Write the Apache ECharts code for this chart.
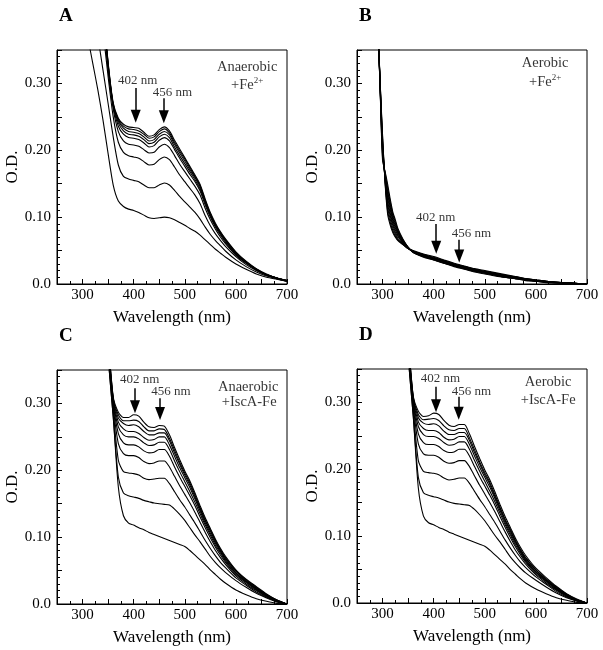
<!DOCTYPE html>
<html>
<head>
<meta charset="utf-8">
<script src="https://cdn.jsdelivr.net/npm/echarts@6.0.0/dist/echarts.min.js"></script>
<style>
  html, body { margin: 0; padding: 0; background: #fff; }
  #main { width: 603px; height: 650px; }
</style>
</head>
<body>
<div id="main"></div>
<script>
// 波长 (nm) - 面板 A / C / D
const wl = [300,310,320,330,340,350,360,370,380,390,400,410,420,430,440,450,460,470,480,490,500,510,520,530,540,550,560,570,580,600,620,640,660,680,700]
// 波长 (nm) - 面板 B
const wlB = [288,292,296,300,305,310,315,320,325,330,340,350,360,380,400,420,440,460,480,500,520,540,560,580,600,620,650,700]

// A: Anaerobic +Fe2+
const a1 = [0.41,0.37,0.33,0.29,0.245,0.195,0.148,0.124,0.116,0.112,0.110,0.107,0.103,0.099,0.098,0.099,0.100,0.099,0.096,0.092,0.088,0.083,0.079,0.073,0.066,0.059,0.052,0.046,0.040,0.030,0.022,0.015,0.010,0.007,0.004]
const a2 = [0.55,0.48,0.42,0.37,0.32,0.27,0.22,0.178,0.161,0.157,0.155,0.153,0.148,0.144,0.144,0.148,0.151,0.148,0.140,0.131,0.123,0.115,0.107,0.097,0.085,0.074,0.065,0.057,0.049,0.036,0.026,0.018,0.012,0.008,0.004]
const a3 = [0.75,0.63,0.53,0.45,0.38,0.31,0.25,0.212,0.197,0.192,0.190,0.188,0.183,0.178,0.179,0.186,0.190,0.186,0.175,0.163,0.153,0.143,0.133,0.120,0.102,0.087,0.075,0.065,0.056,0.041,0.029,0.020,0.013,0.008,0.004]
const a4 = [0.85,0.70,0.58,0.49,0.40,0.32,0.262,0.228,0.214,0.209,0.208,0.206,0.201,0.196,0.197,0.205,0.209,0.204,0.192,0.179,0.168,0.157,0.146,0.133,0.113,0.096,0.082,0.070,0.060,0.043,0.031,0.021,0.014,0.009,0.004]
const a5 = [0.88,0.72,0.60,0.50,0.41,0.325,0.266,0.236,0.224,0.219,0.218,0.216,0.211,0.205,0.207,0.215,0.219,0.214,0.201,0.188,0.176,0.164,0.153,0.139,0.118,0.100,0.085,0.073,0.062,0.044,0.032,0.021,0.014,0.009,0.005]
const a6 = [0.89,0.73,0.61,0.51,0.415,0.327,0.267,0.241,0.229,0.224,0.223,0.221,0.216,0.210,0.212,0.220,0.224,0.219,0.205,0.192,0.180,0.168,0.156,0.142,0.121,0.102,0.087,0.075,0.064,0.045,0.032,0.022,0.014,0.009,0.005]
const a7 = [0.90,0.74,0.615,0.515,0.418,0.329,0.268,0.244,0.233,0.228,0.227,0.225,0.220,0.214,0.216,0.224,0.228,0.223,0.209,0.196,0.184,0.171,0.159,0.145,0.123,0.104,0.088,0.076,0.065,0.046,0.033,0.022,0.014,0.009,0.005]
const a8 = [0.90,0.745,0.618,0.518,0.419,0.330,0.269,0.246,0.236,0.232,0.231,0.229,0.224,0.218,0.220,0.228,0.232,0.226,0.212,0.199,0.187,0.174,0.161,0.147,0.125,0.105,0.089,0.077,0.066,0.047,0.033,0.022,0.014,0.009,0.005]
const a9 = [0.90,0.75,0.62,0.52,0.42,0.332,0.271,0.248,0.239,0.235,0.234,0.233,0.227,0.221,0.223,0.231,0.235,0.229,0.215,0.202,0.189,0.176,0.163,0.149,0.127,0.107,0.091,0.078,0.067,0.048,0.034,0.023,0.015,0.009,0.005]

// B: Aerobic +Fe2+
const b1 = [0.52,0.37,0.29,0.223,0.150,0.104,0.088,0.077,0.070,0.065,0.059,0.053,0.050,0.045,0.041,0.036,0.031,0.027,0.023,0.020,0.017,0.014,0.011,0.008,0.006,0.004,0.002,0.0]
const b2 = [0.52,0.37,0.288,0.219,0.152,0.109,0.092,0.080,0.072,0.066,0.059,0.053,0.049,0.044,0.040,0.035,0.030,0.026,0.022,0.019,0.016,0.013,0.011,0.008,0.006,0.004,0.002,0.0]
const b3 = [0.52,0.37,0.286,0.215,0.154,0.114,0.097,0.084,0.075,0.068,0.060,0.053,0.049,0.044,0.039,0.034,0.030,0.026,0.022,0.019,0.016,0.013,0.010,0.008,0.006,0.004,0.002,0.0]
const b4 = [0.52,0.37,0.284,0.211,0.156,0.119,0.102,0.088,0.078,0.071,0.061,0.053,0.049,0.043,0.039,0.034,0.029,0.025,0.021,0.018,0.015,0.012,0.010,0.007,0.005,0.004,0.002,0.0]
const b5 = [0.52,0.37,0.282,0.207,0.158,0.124,0.106,0.091,0.081,0.073,0.062,0.054,0.049,0.043,0.038,0.033,0.029,0.025,0.021,0.018,0.015,0.012,0.009,0.007,0.005,0.003,0.002,0.0]
const b6 = [0.52,0.37,0.28,0.203,0.160,0.129,0.111,0.095,0.084,0.075,0.063,0.054,0.048,0.042,0.038,0.033,0.028,0.024,0.020,0.017,0.014,0.011,0.009,0.007,0.005,0.003,0.002,0.0]
const b7 = [0.52,0.37,0.278,0.199,0.162,0.134,0.115,0.098,0.087,0.077,0.064,0.054,0.048,0.042,0.037,0.032,0.028,0.024,0.020,0.017,0.014,0.011,0.009,0.006,0.005,0.003,0.002,0.0]
const b8 = [0.52,0.37,0.276,0.195,0.164,0.139,0.119,0.102,0.090,0.079,0.065,0.055,0.048,0.041,0.037,0.032,0.027,0.023,0.019,0.016,0.013,0.010,0.008,0.006,0.004,0.003,0.001,0.0]
const b9 = [0.52,0.37,0.274,0.190,0.166,0.144,0.123,0.105,0.093,0.081,0.066,0.055,0.047,0.041,0.036,0.031,0.027,0.023,0.019,0.016,0.013,0.010,0.008,0.006,0.004,0.003,0.001,0.0]
const b10 = [0.52,0.37,0.272,0.185,0.168,0.149,0.127,0.108,0.096,0.083,0.067,0.055,0.047,0.040,0.036,0.031,0.026,0.022,0.018,0.015,0.012,0.010,0.008,0.005,0.004,0.002,0.001,0.0]

// C: Anaerobic +IscA-Fe
const c1 = [1.0,0.85,0.72,0.60,0.48,0.37,0.28,0.175,0.132,0.121,0.118,0.114,0.111,0.107,0.104,0.101,0.098,0.095,0.092,0.089,0.086,0.080,0.073,0.066,0.059,0.051,0.044,0.037,0.031,0.021,0.014,0.008,0.004,0.001,0.0]
const c2 = [1.05,0.88,0.74,0.61,0.49,0.37,0.28,0.19,0.166,0.162,0.160,0.158,0.155,0.153,0.151,0.150,0.149,0.148,0.142,0.134,0.125,0.114,0.103,0.093,0.082,0.071,0.062,0.054,0.047,0.035,0.025,0.016,0.009,0.003,0.0]
const c3 = [1.1,0.9,0.75,0.62,0.50,0.38,0.29,0.215,0.198,0.196,0.195,0.193,0.188,0.186,0.187,0.188,0.188,0.180,0.168,0.156,0.145,0.133,0.121,0.108,0.095,0.083,0.072,0.062,0.054,0.039,0.028,0.018,0.010,0.004,0.0]
const c4 = [1.12,0.91,0.76,0.62,0.50,0.38,0.295,0.24,0.225,0.222,0.222,0.219,0.213,0.210,0.211,0.214,0.214,0.205,0.191,0.177,0.164,0.151,0.137,0.122,0.107,0.093,0.080,0.069,0.059,0.042,0.030,0.020,0.011,0.004,0.0]
const c5 = [1.14,0.92,0.76,0.63,0.51,0.385,0.30,0.255,0.241,0.238,0.238,0.235,0.229,0.226,0.227,0.231,0.231,0.221,0.205,0.190,0.176,0.162,0.147,0.130,0.114,0.099,0.085,0.073,0.062,0.044,0.032,0.021,0.012,0.005,0.0]
const c6 = [1.16,0.93,0.77,0.63,0.51,0.39,0.303,0.265,0.253,0.250,0.250,0.247,0.241,0.237,0.238,0.242,0.242,0.231,0.214,0.198,0.183,0.168,0.152,0.135,0.118,0.103,0.088,0.076,0.064,0.046,0.033,0.022,0.013,0.005,0.0]
const c7 = [1.17,0.94,0.77,0.64,0.52,0.39,0.305,0.272,0.262,0.258,0.258,0.255,0.249,0.245,0.246,0.250,0.250,0.238,0.221,0.204,0.189,0.174,0.157,0.139,0.121,0.106,0.091,0.078,0.066,0.047,0.034,0.023,0.013,0.005,0.0]
const c8 = [1.18,0.94,0.78,0.64,0.52,0.395,0.307,0.278,0.270,0.267,0.268,0.265,0.258,0.253,0.253,0.256,0.256,0.244,0.226,0.209,0.193,0.178,0.160,0.142,0.124,0.109,0.093,0.080,0.068,0.049,0.035,0.024,0.014,0.006,0.0]
const c9 = [1.19,0.95,0.78,0.65,0.52,0.40,0.308,0.283,0.274,0.274,0.275,0.273,0.265,0.259,0.259,0.262,0.261,0.248,0.230,0.212,0.196,0.181,0.163,0.144,0.126,0.111,0.095,0.081,0.069,0.050,0.036,0.025,0.014,0.006,0.0]
const c10 = [1.2,0.95,0.79,0.65,0.53,0.40,0.31,0.287,0.279,0.279,0.283,0.281,0.272,0.265,0.264,0.267,0.266,0.253,0.234,0.216,0.199,0.184,0.166,0.147,0.129,0.113,0.097,0.083,0.071,0.051,0.037,0.026,0.015,0.006,0.0]

// D: Aerobic +IscA-Fe
const d1 = [1.0,0.85,0.72,0.60,0.48,0.37,0.28,0.172,0.130,0.120,0.117,0.113,0.110,0.106,0.103,0.100,0.097,0.094,0.091,0.088,0.085,0.079,0.072,0.065,0.058,0.050,0.043,0.036,0.030,0.021,0.014,0.008,0.004,0.001,0.0]
const d2 = [1.05,0.88,0.74,0.61,0.49,0.37,0.28,0.188,0.165,0.161,0.159,0.157,0.154,0.151,0.149,0.148,0.147,0.146,0.140,0.132,0.123,0.112,0.101,0.091,0.080,0.069,0.060,0.052,0.045,0.034,0.024,0.015,0.008,0.003,0.0]
const d3 = [1.1,0.9,0.75,0.62,0.50,0.38,0.29,0.213,0.197,0.195,0.194,0.192,0.187,0.184,0.185,0.187,0.187,0.179,0.167,0.155,0.144,0.132,0.120,0.107,0.094,0.082,0.071,0.061,0.053,0.039,0.028,0.017,0.009,0.003,0.0]
const d4 = [1.12,0.91,0.76,0.62,0.50,0.38,0.295,0.238,0.223,0.221,0.221,0.218,0.212,0.209,0.210,0.213,0.213,0.204,0.190,0.176,0.163,0.150,0.136,0.121,0.106,0.092,0.079,0.068,0.058,0.042,0.030,0.019,0.010,0.004,0.0]
const d5 = [1.14,0.92,0.76,0.63,0.51,0.385,0.30,0.253,0.240,0.237,0.237,0.234,0.228,0.225,0.226,0.230,0.230,0.220,0.204,0.189,0.175,0.161,0.146,0.129,0.113,0.098,0.084,0.072,0.061,0.044,0.032,0.020,0.011,0.004,0.0]
const d6 = [1.16,0.93,0.77,0.63,0.51,0.39,0.303,0.264,0.252,0.249,0.249,0.246,0.240,0.236,0.237,0.241,0.241,0.230,0.213,0.197,0.182,0.167,0.151,0.134,0.117,0.102,0.087,0.075,0.063,0.046,0.033,0.021,0.012,0.004,0.0]
const d7 = [1.17,0.94,0.77,0.64,0.52,0.39,0.305,0.271,0.261,0.258,0.258,0.255,0.248,0.244,0.245,0.249,0.249,0.237,0.220,0.203,0.188,0.173,0.156,0.138,0.120,0.105,0.090,0.077,0.065,0.047,0.034,0.022,0.012,0.005,0.0]
const d8 = [1.18,0.94,0.78,0.64,0.52,0.395,0.307,0.277,0.269,0.267,0.268,0.265,0.257,0.252,0.252,0.255,0.255,0.243,0.225,0.208,0.192,0.177,0.159,0.141,0.123,0.108,0.092,0.079,0.067,0.049,0.035,0.023,0.013,0.005,0.0]
const d9 = [1.19,0.95,0.78,0.65,0.52,0.40,0.308,0.282,0.274,0.275,0.276,0.273,0.265,0.259,0.258,0.261,0.261,0.247,0.229,0.211,0.195,0.180,0.162,0.143,0.125,0.110,0.094,0.080,0.068,0.050,0.036,0.024,0.013,0.005,0.0]
const d10 = [1.2,0.95,0.79,0.65,0.53,0.40,0.31,0.287,0.279,0.280,0.284,0.282,0.273,0.266,0.264,0.267,0.267,0.253,0.234,0.216,0.199,0.184,0.166,0.147,0.129,0.113,0.097,0.083,0.071,0.052,0.038,0.025,0.014,0.006,0.0]

// 标注文字 [波长, O.D., 文本]
const notesA = [[408, 0.305, '402 nm'], [476, 0.287, '456 nm'], [622, 0.325, 'Anaerobic'], [622, 0.298, '+Fe{s|2+}']]
const notesB = [[404, 0.100, '402 nm'], [474, 0.076, '456 nm'], [618, 0.331, 'Aerobic'], [618, 0.302, '+Fe{s|2+}']]
const notesC = [[412, 0.335, '402 nm'], [473, 0.3175, '456 nm'], [624, 0.325, 'Anaerobic'], [626, 0.3026, '+IscA-Fe']]
const notesD = [[413, 0.336, '402 nm'], [474, 0.316, '456 nm'], [624, 0.331, 'Aerobic'], [624, 0.3036, '+IscA-Fe']]

// 箭头 [起点, 终点]
const arrowsA = [[[404, 0.293], [404, 0.251]], [[459, 0.278], [459, 0.250]]]
const arrowsB = [[[405, 0.0897], [405, 0.055]], [[450, 0.066], [450, 0.042]]]
const arrowsC = [[[402.6, 0.3226], [402.6, 0.295]], [[451.6, 0.3076], [451.6, 0.285]]]
const arrowsD = [[[404.6, 0.3235], [404.6, 0.295]], [[449, 0.3086], [449, 0.284]]]

const FONT = 'Liberation Serif'

const panels = [
  { letter: 'A', xs: wl, curves: [a1, a2, a3, a4, a5, a6, a7, a8, a9], notes: notesA, arrows: arrowsA, left: 57, top: 50 },
  { letter: 'B', xs: wlB, curves: [b1, b2, b3, b4, b5, b6, b7, b8, b9, b10], notes: notesB, arrows: arrowsB, left: 357, top: 50 },
  { letter: 'C', xs: wl, curves: [c1, c2, c3, c4, c5, c6, c7, c8, c9, c10], notes: notesC, arrows: arrowsC, left: 57, top: 370 },
  { letter: 'D', xs: wl, curves: [d1, d2, d3, d4, d5, d6, d7, d8, d9, d10], notes: notesD, arrows: arrowsD, left: 357, top: 369 },
]

const grid = []
const xAxis = []
const yAxis = []
const series = []
const title = []

panels.forEach((p, g) => {
  grid.push({ left: p.left, top: p.top, width: 230, height: 234, show: true, borderColor: '#000', borderWidth: 1 })

  title.push({ text: p.letter, left: p.left + 2, top: p.top - 43, padding: 0,
    textStyle: { fontFamily: FONT, fontWeight: 'bold', fontSize: 19, color: '#000' } })

  xAxis.push({
    gridIndex: g, type: 'value', min: 250, max: 700, interval: 50,
    name: 'Wavelength (nm)', nameLocation: 'middle', nameGap: 25,
    nameTextStyle: { fontFamily: FONT, fontSize: 17, color: '#000' },
    axisLine: { lineStyle: { color: '#000', width: 1 } },
    axisTick: { inside: true, length: 5, lineStyle: { color: '#000' } },
    minorTick: { show: true, splitNumber: 2, length: 3, lineStyle: { color: '#000' } },
    splitLine: { show: false },
    axisLabel: { fontFamily: FONT, fontSize: 15, color: '#000', margin: 4,
      formatter: v => (v % 100 === 0 ? String(v) : '') },
  })

  yAxis.push({
    gridIndex: g, type: 'value', min: 0, max: 0.35, interval: 0.05,
    name: 'O.D.', nameLocation: 'middle', nameGap: 35, nameRotate: 90,
    nameTextStyle: { fontFamily: FONT, fontSize: 17, color: '#000' },
    axisLine: { show: true, lineStyle: { color: '#000', width: 1 } },
    axisTick: { inside: true, length: 5, lineStyle: { color: '#000' } },
    minorTick: { show: true, splitNumber: 5, length: 3, lineStyle: { color: '#000' } },
    splitLine: { show: false },
    axisLabel: { fontFamily: FONT, fontSize: 15, color: '#000', margin: 6,
      formatter: v => {
        const r = Math.round(v * 100)
        if (r === 0) return '0.0'
        return r % 10 === 0 ? (r / 100).toFixed(2) : ''
      } },
  })

  // 光谱曲线
  p.curves.forEach(c => {
    series.push({
      type: 'line', xAxisIndex: g, yAxisIndex: g,
      data: p.xs.map((x, i) => [x, c[i]]),
      symbol: 'none', smooth: 0.25, clip: true, silent: true,
      lineStyle: { color: '#000', width: 1.1 },
    })
  })

  // 文字 + 箭头
  series.push({
    type: 'scatter', xAxisIndex: g, yAxisIndex: g,
    data: p.notes.map(n => ({
      value: n,
      label: { fontSize: n[2].indexOf('nm') >= 0 ? 13 : 14.5 },
    })),
    symbolSize: 1, silent: true,
    itemStyle: { color: 'rgba(0,0,0,0)' },
    label: {
      show: true, position: 'inside', color: '#000', fontFamily: FONT,
      formatter: prm => prm.value[2],
      rich: { s: { fontFamily: FONT, fontSize: 9, color: '#000', padding: [0, 0, 8, 0] } },
    },
    markLine: {
      silent: true, animation: false,
      symbol: ['none', 'triangle'], symbolSize: [10, 13],
      label: { show: false },
      lineStyle: { color: '#000', width: 1.5, type: 'solid' },
      data: p.arrows.map(a => [{ coord: a[0] }, { coord: a[1] }]),
    },
  })
})

const chart = echarts.init(document.getElementById('main'))
chart.setOption({
  animation: false,
  backgroundColor: '#fff',
  title, grid, xAxis, yAxis, series,
})
</script>
</body>
</html>
